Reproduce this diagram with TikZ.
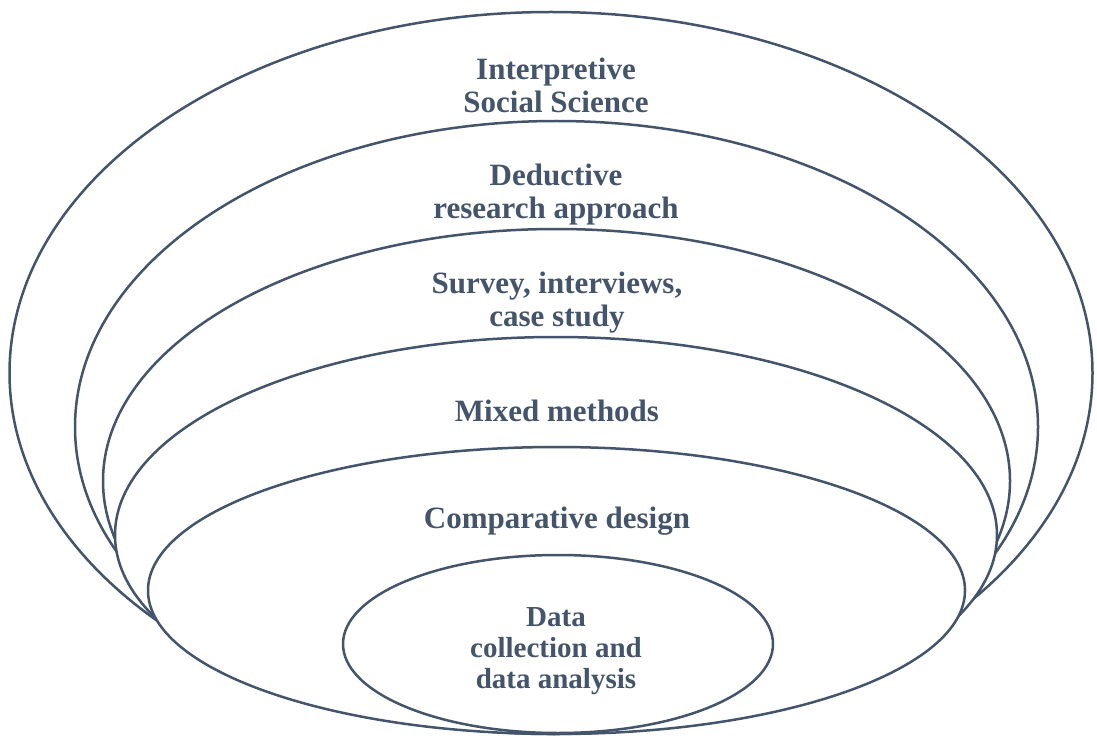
\documentclass[tikz,border=0pt]{standalone}
\usepackage{fontspec}
\setmainfont{Liberation Serif}
\usetikzlibrary{shapes.geometric, positioning}
\definecolor{onionblue}{HTML}{44546A}
\def \layerFont {\fontsize{31}{33}\selectfont\bfseries}
\def \coreFont {\fontsize{29}{31}\selectfont\bfseries}
\def \lineW {2.5pt}
\tikzset{
	layer/.style= {draw=onionblue, ellipse, fill=white, line width=\lineW, inner sep=0pt, outer sep=0pt},
	layertext/.style= {text=onionblue, align=center, font=\layerFont, inner sep=0pt},
	coretext/.style= {text=onionblue, align=center, font=\coreFont, inner sep=0pt}
}

\begin{document}
\begin{tikzpicture}[x=1pt, y=-1pt]
	\useasboundingbox (0,0) rectangle (1097,738);

%%%%%%%%%%%%%%%%%%%%% Layers (outer first) %%%%%%%%%%%%%%%%%%%%%
	\node [layer, minimum width=1083pt, minimum height=722pt] (philosophy) at (551,373) {};
	\node [layer, minimum width=963pt, minimum height=612pt] (approach) at (556.5,427) {};
	\node [layer, minimum width=907pt, minimum height=504pt] (strategy) at (556.5,481) {};
	\node [layer, minimum width=882pt, minimum height=396pt] (choice) at (556,535) {};
	\node [layer, minimum width=817pt, minimum height=287pt] (design) at (556.5,590.5) {};
	\node [layer, minimum width=430pt, minimum height=178pt] (core) at (558,644) {};

%%%%%%%%%%%%%%%%%%%%% Labels %%%%%%%%%%%%%%%%%%%%%
	\node [layertext] (philosophyText) at (556,85) {Interpretive\\Social Science};
	\node [layertext] (approachText) at (556,195) {Deductive\\research approach};
	\node [layertext] (strategyText) at (557,303) {Survey, interviews,\\case study};
	\node [layertext] (choiceText) at (557,411) {Mixed methods};
	\node [layertext] (designText) at (557,521) {Comparative design};
	\node [coretext] (coreText) at (556,651) {Data\\collection and\\data analysis};

\end{tikzpicture}
\end{document}
